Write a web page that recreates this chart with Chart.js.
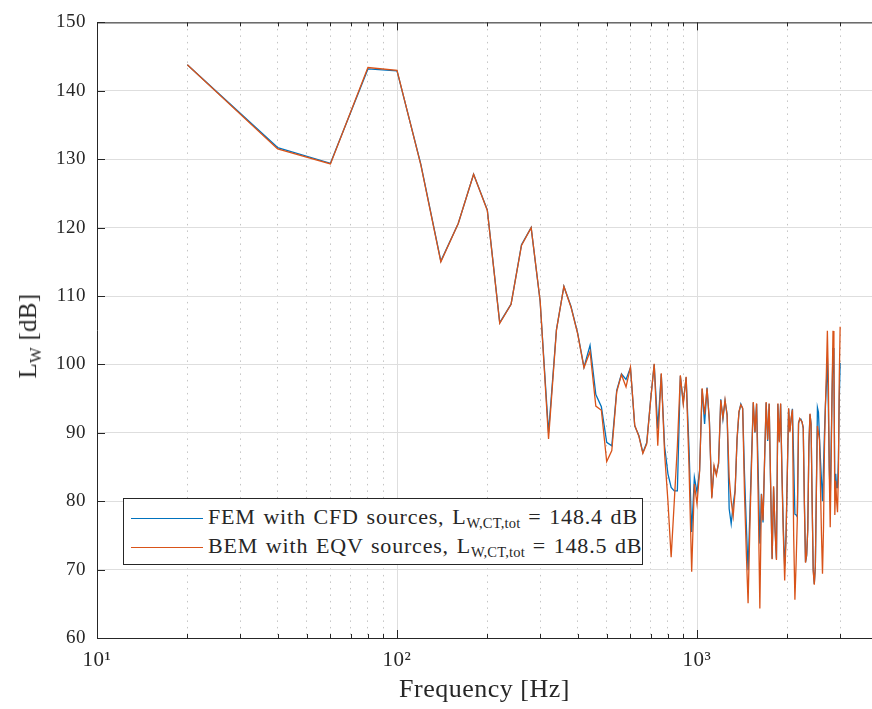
<!DOCTYPE html>
<html>
<head>
<meta charset="utf-8">
<script src="https://cdn.jsdelivr.net/npm/chart.js@4.4.0/dist/chart.umd.min.js"></script>
<style>
  body { margin: 0; background: #fff; }
  #wrap { position: relative; width: 872px; height: 709px; font-family: "Liberation Serif", "Times New Roman", serif; color: #262626; }
  #ylabel { position: absolute; left: 30px; top: 336px; transform: translate(-50%, -50%) rotate(-90deg); font-size: 25px; letter-spacing: 0.3px; white-space: nowrap; }
  #legend { position: absolute; left: 123px; top: 498px; width: 518px; height: 65px; border: 1px solid #262626; background: #fff; font-size: 22px; letter-spacing: 0.8px; word-spacing: 1.5px; }
  .row { position: absolute; left: 7px; height: 28px; display: flex; align-items: center; white-space: nowrap; }
  .swatch { width: 72px; height: 0; border-top: 1.3px solid; margin-right: 5px; }
  sub { font-size: 0.66em; vertical-align: -0.3em; letter-spacing: 0.2px; }
</style>
</head>
<body>
<div id="wrap">
  <canvas id="lwChart" width="872" height="709"></canvas>
  <div id="ylabel">L<sub>W</sub> [dB]</div>
  <div id="legend"></div>
</div>
<script>
// frequency bins [Hz]
const freqs = [20, 40, 60, 80, 100, 120, 140, 160, 180, 200, 220, 240, 260, 280, 300, 320, 340, 360, 380, 400,
  420, 440, 460, 480, 500, 520, 540, 560, 580, 600, 620, 640, 660, 680, 700, 720, 740, 760, 780, 800,
  820, 840, 860, 880, 900, 920, 940, 960, 980, 1000, 1020, 1040, 1060, 1080, 1100, 1120, 1140, 1160, 1180, 1200,
  1220, 1240, 1260, 1280, 1300, 1320, 1340, 1360, 1380, 1400, 1420, 1440, 1460, 1480, 1500, 1520, 1540, 1560, 1580, 1600,
  1620, 1640, 1660, 1680, 1700, 1720, 1740, 1760, 1780, 1800, 1820, 1840, 1860, 1880, 1900, 1920, 1940, 1960, 1980, 2000,
  2020, 2040, 2060, 2080, 2100, 2120, 2140, 2160, 2180, 2200, 2220, 2240, 2260, 2280, 2300, 2320, 2340, 2360, 2380, 2400,
  2420, 2440, 2460, 2480, 2500, 2520, 2540, 2560, 2580, 2600, 2620, 2640, 2660, 2680, 2700, 2720, 2740, 2760, 2780, 2800,
  2820, 2840, 2860, 2880, 2900, 2920, 2940, 2960, 2980, 3000];

// FEM with CFD sources [dB]
const femLw = [143.8, 131.7, 129.4, 143.2, 142.9, 129.3, 115.1, 120.6, 127.8, 122.6, 106.1, 108.8, 117.5, 120.0, 109.2, 90.0, 105.1, 111.4, 108.5, 104.6,
  99.6, 102.8, 95.6, 93.8, 88.6, 88.1, 96.2, 98.6, 97.8, 99.5, 91.0, 89.6, 87.1, 88.6, 94.7, 100.0, 90.6, 98.6, 88.0, 84.0,
  82.0, 81.5, 81.5, 98.3, 94.4, 98.1, 88.0, 75.5, 83.5, 81.3, 84.5, 96.4, 91.3, 96.6, 91.7, 80.6, 85.0, 84.0, 85.5, 94.9,
  92.0, 94.7, 92.7, 78.9, 76.7, 79.5, 81.6, 89.0, 93.0, 94.2, 93.5, 84.0, 76.5, 69.9, 78.0, 86.5, 94.4, 90.0, 94.2, 84.0,
  73.8, 81.1, 76.9, 86.0, 94.4, 88.8, 94.2, 82.0, 71.6, 82.0, 76.0, 71.6, 94.2, 88.8, 94.2, 84.0, 76.0, 70.5, 74.8, 84.0,
  93.5, 90.3, 92.0, 93.5, 86.0, 78.1, 78.0, 77.7, 91.5, 92.0, 92.0, 91.5, 90.8, 80.0, 71.1, 72.0, 76.0, 88.0, 92.7, 91.3,
  80.0, 70.0, 67.9, 70.4, 82.0, 93.7, 93.0, 89.3, 86.0, 83.0, 80.0, 85.0, 90.0, 94.2, 97.0, 101.0, 94.0, 85.0, 80.0, 88.0,
  96.0, 102.4, 98.5, 82.0, 84.0, 82.0, 82.0, 86.0, 95.0, 100.2];

// BEM with EQV sources [dB]
const bemLw = [143.8, 131.5, 129.3, 143.4, 143.0, 129.2, 115.0, 120.6, 127.8, 122.5, 106.0, 108.8, 117.4, 120.0, 109.3, 89.1, 105.0, 111.4, 108.4, 104.5,
  99.5, 101.9, 93.9, 93.3, 85.8, 87.4, 96.0, 98.5, 96.7, 99.6, 91.1, 89.5, 87.0, 88.4, 94.6, 100.1, 88.1, 98.7, 86.9, 80.0,
  71.8, 80.0, 88.0, 98.4, 94.2, 98.2, 85.4, 69.7, 82.5, 79.6, 84.3, 96.5, 92.7, 96.5, 91.5, 80.4, 85.2, 83.8, 85.6, 94.8,
  92.2, 94.8, 92.5, 83.5, 80.0, 77.8, 81.5, 89.2, 93.1, 94.1, 93.6, 81.0, 72.5, 65.1, 76.0, 85.5, 94.5, 90.1, 94.3, 80.0,
  64.3, 81.0, 77.2, 86.2, 94.5, 89.0, 94.3, 82.3, 71.5, 82.2, 75.8, 71.4, 94.3, 88.6, 94.3, 83.5, 75.0, 68.4, 74.6, 84.2,
  93.6, 90.1, 92.2, 93.4, 75.0, 65.6, 71.0, 77.6, 91.3, 92.1, 91.8, 91.6, 90.6, 79.5, 71.0, 72.2, 75.8, 88.2, 92.8, 91.2,
  79.6, 69.8, 67.8, 70.5, 81.5, 91.0, 90.0, 89.0, 82.0, 75.0, 69.4, 76.0, 88.0, 94.0, 99.0, 104.9, 98.0, 84.0, 76.2, 86.0,
  96.0, 104.9, 102.5, 78.0, 83.0, 80.0, 78.4, 84.0, 98.0, 105.5];

const seriesNames = ['FEM with CFD sources', 'BEM with EQV sources'];
const seriesTotals = ['148.4', '148.5'];
const seriesColors = ['#0072BD', '#D95319'];

// axis ticks
const xTickValues = [10, 20, 30, 40, 50, 60, 70, 80, 90, 100, 200, 300, 400, 500, 600, 700, 800, 900, 1000, 2000, 3000];
const xTickLabels = { 10: '10¹', 100: '10²', 1000: '10³' };
const yMin = 60, yMax = 150, yStep = 10;

const SERIF = '"Liberation Serif", "Times New Roman", serif';
const INK = '#262626';

function isDecade(v) {
  return v === 10 || v === 100 || v === 1000;
}

// MATLAB-style box: top border line + inward tick marks
const boxPlugin = {
  id: 'box',
  afterDraw(chart) {
    const { ctx, chartArea: a, scales } = chart;
    ctx.save();
    ctx.strokeStyle = INK;
    ctx.lineWidth = 1;
    ctx.beginPath();
    ctx.moveTo(a.left, a.top + 0.5);
    ctx.lineTo(a.right, a.top + 0.5);
    scales.x.ticks.forEach(t => {
      const px = Math.round(scales.x.getPixelForValue(t.value)) + 0.5;
      const len = isDecade(t.value) ? 8 : 4;
      ctx.moveTo(px, a.bottom);
      ctx.lineTo(px, a.bottom - len);
      ctx.moveTo(px, a.top);
      ctx.lineTo(px, a.top + len);
    });
    scales.y.ticks.forEach(t => {
      const py = Math.round(scales.y.getPixelForValue(t.value)) + 0.5;
      ctx.moveTo(a.left, py);
      ctx.lineTo(a.left + 8, py);
    });
    ctx.stroke();
    ctx.restore();
  }
};

const ctx = document.getElementById('lwChart').getContext('2d');
ctx.canvas.style.letterSpacing = '0.5px';
const chart = new Chart(ctx, {
  type: 'line',
  data: {
    datasets: [
      {
        label: seriesNames[0],
        data: freqs.map((f, i) => ({ x: f, y: femLw[i] })),
        borderColor: seriesColors[0],
        borderWidth: 1.3,
        pointRadius: 0,
        tension: 0,
        order: 1
      },
      {
        label: seriesNames[1],
        data: freqs.map((f, i) => ({ x: f, y: bemLw[i] })),
        borderColor: seriesColors[1],
        borderWidth: 1.3,
        pointRadius: 0,
        tension: 0,
        order: 0
      }
    ]
  },
  options: {
    responsive: false,
    animation: false,
    layout: { padding: { top: 20, right: 0, left: 0, bottom: 0 } },
    plugins: { legend: { display: false }, tooltip: { enabled: false } },
    scales: {
      x: {
        type: 'logarithmic',
        min: 10,
        max: 3831,
        afterBuildTicks: scale => { scale.ticks = xTickValues.map(v => ({ value: v, major: isDecade(v) })); },
        afterFit: scale => { scale.height = 71; },
        ticks: {
          autoSkip: false,
          maxRotation: 0,
          padding: 10,
          color: INK,
          font: { family: SERIF, size: 21 },
          callback: v => xTickLabels[v] || ''
        },
        grid: {
          drawTicks: false,
          color: c => (c.tick && isDecade(c.tick.value)) ? '#dedede' : '#c4c4c4',
          lineWidth: 1
        },
        border: {
          color: INK,
          width: 1,
          dash: c => (c.tick && !isDecade(c.tick.value)) ? [1.5, 5] : []
        },
        title: {
          display: true,
          text: 'Frequency [Hz]',
          color: INK,
          font: { family: SERIF, size: 26 },
          padding: { top: 0, bottom: 3 }
        }
      },
      y: {
        min: yMin,
        max: yMax,
        afterFit: scale => { scale.width = 97; },
        ticks: {
          stepSize: yStep,
          padding: 11,
          color: INK,
          font: { family: SERIF, size: 19 }
        },
        grid: { drawTicks: false, color: '#dedede', lineWidth: 1 },
        border: { color: INK, width: 1 }
      }
    }
  },
  plugins: [boxPlugin]
});

// legend with subscripts
const legendBox = document.getElementById('legend');
legendBox.innerHTML = seriesNames.map((name, i) =>
  `<div class="row" style="top:${5 + i * 29}px">` +
  `<span class="swatch" style="border-color:${seriesColors[i]}"></span>` +
  `<span>${name}, L<sub>W,CT,tot</sub> = ${seriesTotals[i]} dB</span></div>`
).join('');
</script>
</body>
</html>
